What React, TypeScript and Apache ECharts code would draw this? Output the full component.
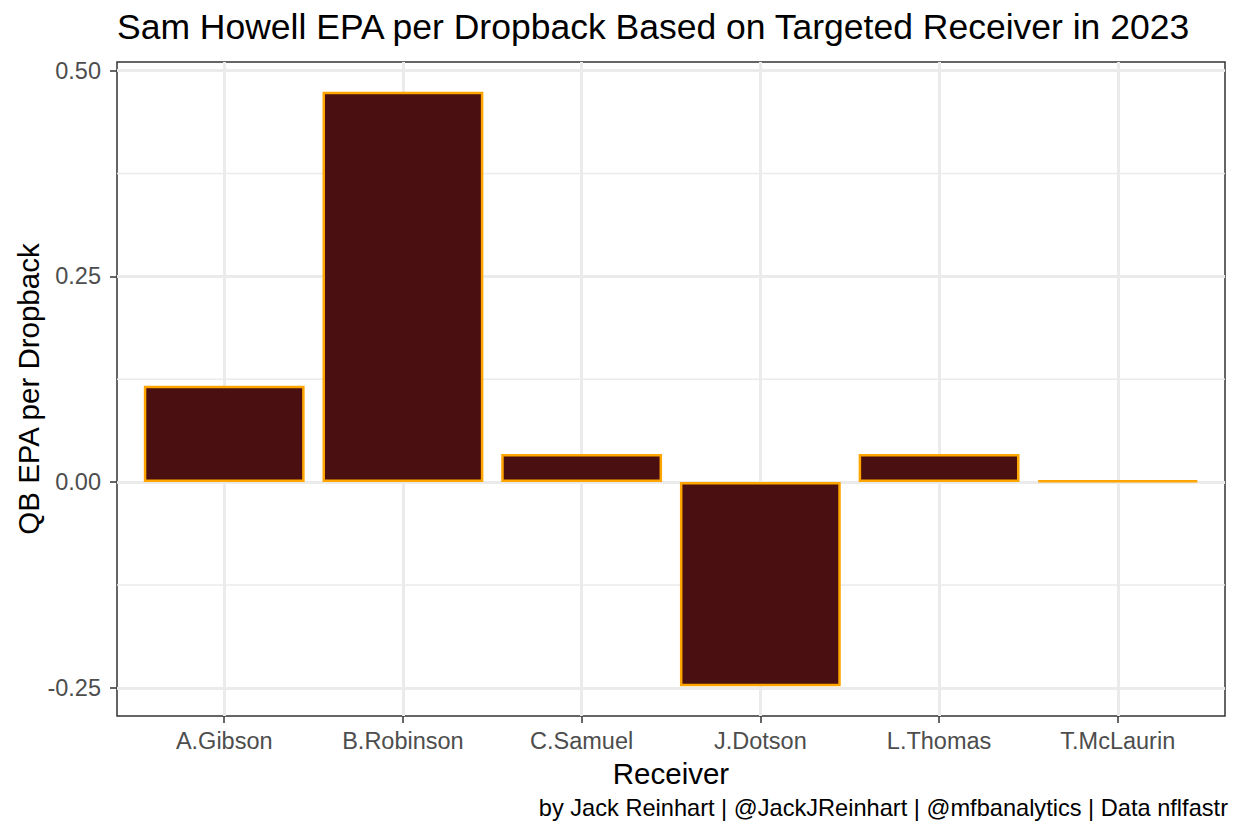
import React, { useEffect, useRef } from "react";
import * as echarts from "echarts";

const receivers = ["A.Gibson", "B.Robinson", "C.Samuel", "J.Dotson", "L.Thomas", "T.McLaurin"];
const epaPerDropback = [0.117, 0.4745, 0.034, -0.2482, 0.034, 0.002];
const yTickValues = [-0.25, 0, 0.25, 0.5];
const yMinorValues = [-0.125, 0.125, 0.375];

const titleText = "Sam Howell EPA per Dropback Based on Targeted Receiver in 2023";
const xTitle = "Receiver";
const yTitle = "QB EPA per Dropback";
const captionText = "by Jack Reinhart | @JackJReinhart | @mfbanalytics | Data nflfastr";

const FONT = "'Liberation Sans', Arial, Helvetica, sans-serif";

export default function App() {
  const ref = useRef<HTMLDivElement>(null);

  useEffect(() => {
    if (!ref.current) return;
    const chart = echarts.init(ref.current, undefined, { renderer: "svg" });

    const gridLeft = 117;
    const gridTop = 62;
    const gridWidth = 1108;
    const gridHeight = 654;

    const xMin = 0.4;
    const xMax = receivers.length + 0.6;
    const dMin = Math.min(...epaPerDropback);
    const dMax = Math.max(...epaPerDropback);
    const pad = (dMax - dMin) * 0.05;
    const yMin = dMin - pad;
    const yMax = dMax + pad;
    const barWidth = (gridWidth / (xMax - xMin)) * 0.9;

    const xPositions = receivers.map((_, i) => i + 1);

    const minorSeries = yMinorValues.map((v) => ({
      type: "line",
      data: [
        [xMin, v],
        [xMax, v],
      ],
      symbol: "none",
      silent: true,
      z: 1,
      lineStyle: { color: "#ebebeb", width: 1.5 },
    }));

    chart.setOption({
      animation: false,
      backgroundColor: "#ffffff",
      grid: {
        left: gridLeft,
        top: gridTop,
        width: gridWidth,
        height: gridHeight,
        show: true,
        borderColor: "#333333",
        borderWidth: 1.5,
        backgroundColor: "transparent",
        containLabel: false,
      },
      xAxis: {
        type: "value",
        position: "bottom",
        min: xMin,
        max: xMax,
        axisLine: { show: false, onZero: false },
        axisTick: {
          show: true,
          length: 7,
          customValues: xPositions,
          lineStyle: { color: "#333333", width: 1.5 },
        },
        axisLabel: {
          customValues: xPositions,
          margin: 13,
          color: "#4d4d4d",
          fontSize: 23.5,
          fontFamily: FONT,
          formatter: (v: number) => receivers[Math.round(v) - 1] ?? "",
        },
        splitLine: { show: true, lineStyle: { color: "#ebebeb", width: 3 } },
      },
      yAxis: {
        type: "value",
        position: "left",
        min: yMin,
        max: yMax,
        axisLine: { show: false, onZero: false },
        axisTick: {
          show: true,
          length: 7,
          customValues: yTickValues,
          lineStyle: { color: "#333333", width: 1.5 },
        },
        axisLabel: {
          customValues: yTickValues,
          margin: 16,
          color: "#4d4d4d",
          fontSize: 23.5,
          fontFamily: FONT,
          formatter: (v: number) => v.toFixed(2),
        },
        splitLine: { show: true, lineStyle: { color: "#ebebeb", width: 3 } },
      },
      series: [
        ...minorSeries,
        {
          type: "bar",
          z: 2,
          barWidth: barWidth,
          data: xPositions.map((x, i) => [x, epaPerDropback[i]]),
          itemStyle: {
            color: "#4a0f11",
            borderColor: "#ffa500",
            borderWidth: 2.5,
          },
        },
      ],
      graphic: [
        {
          type: "text",
          x: gridLeft,
          y: 27,
          style: {
            text: titleText,
            fill: "#000000",
            fontSize: 35.5,
            fontFamily: FONT,
            align: "left",
            verticalAlign: "middle",
          },
        },
        {
          type: "text",
          x: 28,
          y: gridTop + gridHeight / 2,
          rotation: Math.PI / 2,
          style: {
            text: yTitle,
            fill: "#000000",
            fontSize: 29.5,
            fontFamily: FONT,
            align: "center",
            verticalAlign: "middle",
          },
        },
        {
          type: "text",
          x: gridLeft + gridWidth / 2,
          y: 773,
          style: {
            text: xTitle,
            fill: "#000000",
            fontSize: 29.5,
            fontFamily: FONT,
            align: "center",
            verticalAlign: "middle",
          },
        },
        {
          type: "text",
          x: 1228,
          y: 808,
          style: {
            text: captionText,
            fill: "#000000",
            fontSize: 23.6,
            fontFamily: FONT,
            align: "right",
            verticalAlign: "middle",
          },
        },
      ],
    });

    return () => chart.dispose();
  }, []);

  return (
    <div
      ref={ref}
      style={{ position: "fixed", left: 0, top: 0, width: 1240, height: 838 }}
    />
  );
}
